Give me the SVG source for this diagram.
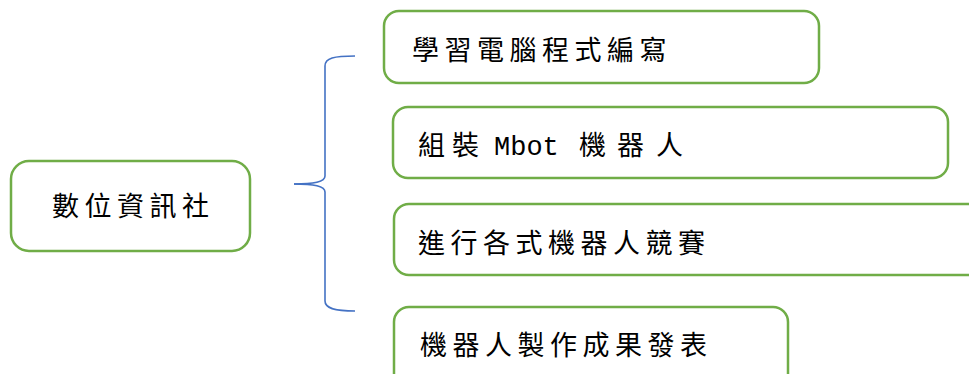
<svg xmlns="http://www.w3.org/2000/svg" width="969" height="374" viewBox="0 0 969 374">
<style>
.box{fill:#ffffff;stroke:#70AD47;stroke-width:2.5}
.t{font-family:"Noto Sans CJK TC","Noto Sans CJK SC",sans-serif;font-size:27px;fill:#000000;letter-spacing:5.5px}
.m{font-family:"Liberation Mono",monospace;font-size:27px;letter-spacing:0}
.brace{fill:none;stroke:#4472C4;stroke-width:1.6}
</style>
<rect width="969" height="374" fill="#ffffff"/>
<g id="connectors">
<path class="brace" d="M355,56 C334,56 325,58 325,66 L325,176 C325,182 314,184 294,184"/>
<path class="brace" d="M294,184 C314,184 325,186 325,192 L325,301 C325,308 334,311 355,311"/>
</g>
<g id="root">
<rect class="box" x="11" y="161" width="239" height="90" rx="18"/>
<text class="t" x="52" y="216">數位資訊社</text>
</g>
<g id="n1">
<rect class="box" x="384" y="11" width="435" height="72" rx="15"/>
<text class="t" x="412" y="60">學習電腦程式編寫</text>
</g>
<g id="n2">
<rect class="box" x="393" y="107" width="555" height="71" rx="15"/>
<text class="t" y="155" style="letter-spacing:0"><tspan x="418">組</tspan><tspan x="452">裝</tspan><tspan class="m" x="494">Mbot</tspan><tspan x="579">機</tspan><tspan x="617">器</tspan><tspan x="656">人</tspan></text>
</g>
<g id="n3">
<rect class="box" x="394" y="204" width="600" height="71" rx="15"/>
<text class="t" x="418" y="253">進行各式機器人競賽</text>
</g>
<g id="n4">
<rect class="box" x="394" y="307" width="394" height="100" rx="15"/>
<text class="t" x="420" y="355">機器人製作成果發表</text>
</g>
</svg>
